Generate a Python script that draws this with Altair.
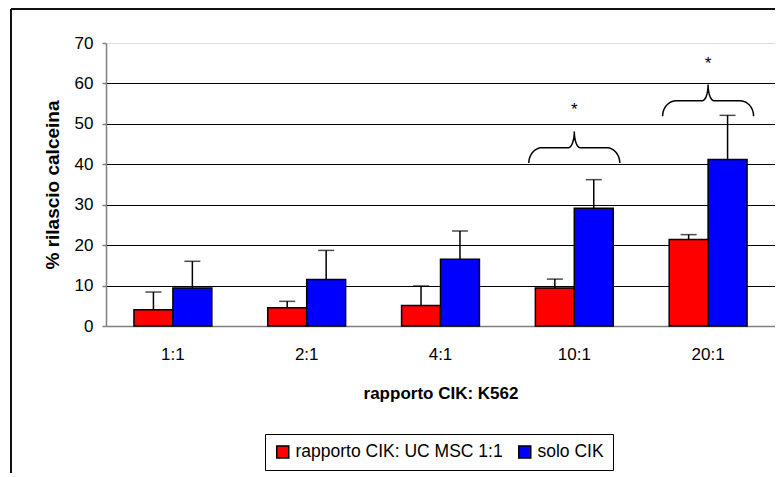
import altair as alt
import pandas as pd
import numpy as np

# ---- data ----
categories = ["1:1", "2:1", "4:1", "10:1", "20:1"]
series = ["rapporto CIK: UC MSC 1:1", "solo CIK"]
red_values = [4.0, 4.5, 5.1, 9.4, 21.4]
red_err_top = [8.4, 6.1, 9.9, 11.6, 22.6]
blue_values = [9.4, 11.5, 16.5, 29.1, 41.2]
blue_err_top = [16.0, 18.7, 23.5, 36.2, 52.1]
colors = ["#FF0000", "#0000FF"]
y_ticks = [0, 10, 20, 30, 40, 50, 60, 70]

# significance braces
brace_categories = ["10:1", "20:1"]
brace_base = [40.3, 51.9]
brace_labels = ["*", "*"]

FONT = "Liberation Sans"

rows = []
for i, c in enumerate(categories):
    rows.append({"category": c, "series": series[0], "value": red_values[i], "err_top": red_err_top[i]})
    rows.append({"category": c, "series": series[1], "value": blue_values[i], "err_top": blue_err_top[i]})
df = pd.DataFrame(rows)

# brace geometry (shape parameters, in axis units)
half_w, rx_end, rx_mid, mid_off, tip_off, star_off = 0.34, 0.10, 0.045, 3.8, 7.8, 14.0
brace_rows, star_rows = [], []
for b, (cat, base, lab) in enumerate(zip(brace_categories, brace_base, brace_labels)):
    xc = categories.index(cat) + 0.5
    y_end, y_mid, y_tip = base, base + mid_off, base + tip_off
    t = np.linspace(0, np.pi / 2, 12)
    left = []
    xl = xc - half_w
    for tt in t:
        left.append((xl + rx_end * (1 - np.cos(tt)), y_end + (y_mid - y_end) * np.sin(tt)))
    for tt in t:
        left.append((xc - rx_mid + rx_mid * np.sin(tt), y_tip - (y_tip - y_mid) * np.cos(tt)))
    right = [(2 * xc - x, y) for (x, y) in reversed(left)]
    pts = left + right
    for k, (x, y) in enumerate(pts):
        brace_rows.append({"brace": b, "order": k, "bx": x, "by": y})
    star_rows.append({"bx": xc, "by": base + star_off, "label": lab})
brace_df = pd.DataFrame(brace_rows)
star_df = pd.DataFrame(star_rows)

x_enc = alt.X(
    "category:N",
    sort=categories,
    scale=alt.Scale(paddingInner=0.418, paddingOuter=0.209),
    axis=alt.Axis(
        title="rapporto CIK: K562",
        labelAngle=0,
        ticks=False,
        tickSize=0,
        labelPadding=20,
        labelFontSize=17,
        labelFont=FONT,
        labelColor="black",
        titleFont=FONT,
        titleFontSize=17,
        titleFontWeight="bold",
        titleColor="black",
        titlePadding=23,
        domainColor="#808080",
        domainWidth=1.5,
        grid=False,
    ),
)
xoff_enc = alt.XOffset("series:N", sort=series, scale=alt.Scale(paddingInner=0, paddingOuter=0))
y_scale = alt.Scale(domain=[0, 70], nice=False)

bars = alt.Chart(df).mark_bar(stroke="black", strokeWidth=1.5).encode(
    x=x_enc,
    xOffset=xoff_enc,
    y=alt.Y(
        "value:Q",
        scale=y_scale,
        axis=alt.Axis(
            title="% rilascio calceina",
            values=y_ticks,
            tickSize=4,
            tickColor="#808080",
            tickWidth=1.5,
            labelPadding=9,
            labelFontSize=17,
            labelFont=FONT,
            labelColor="black",
            titleFont=FONT,
            titleFontSize=19,
            titleFontWeight="bold",
            titleColor="black",
            titlePadding=12,
            domainColor="#808080",
            domainWidth=1.5,
            grid=True,
            gridColor={"condition": {"test": "datum.value == 0 || datum.value == 70", "value": "transparent"}, "value": "black"},
            gridWidth=1,
        ),
    ),
    color=alt.Color(
        "series:N",
        scale=alt.Scale(domain=series, range=colors),
        legend=alt.Legend(
            title=None,
            orient="none",
            legendX=159,
            legendY=391,
            direction="horizontal",
            symbolType="square",
            symbolSize=144,
            symbolStrokeColor="black",
            symbolStrokeWidth=1.5,
            labelFont=FONT,
            labelFontSize=17.5,
            labelColor="black",
            labelLimit=0,
            labelOffset=4,
            columnPadding=12,
            padding=9,
            strokeColor="black",
        ),
    ),
)

err = alt.Chart(df).mark_rule(color="black", strokeWidth=1.5).encode(
    x=alt.X("category:N", sort=categories), xOffset=xoff_enc,
    y=alt.Y("value:Q", scale=y_scale), y2="err_top:Q",
)
caps = alt.Chart(df).mark_tick(color="black", thickness=1.5, size=16).encode(
    x=alt.X("category:N", sort=categories), xOffset=xoff_enc,
    y=alt.Y("err_top:Q", scale=y_scale),
)

bx_scale = alt.Scale(domain=[0, len(categories)], nice=False, zero=False)
braces = alt.Chart(brace_df).mark_line(color="black", strokeWidth=1.5).encode(
    x=alt.X("bx:Q", scale=bx_scale, axis=None),
    y=alt.Y("by:Q", scale=y_scale),
    detail="brace:N",
    order="order:Q",
)
stars = alt.Chart(star_df).mark_text(fontSize=17, font=FONT, color="black", baseline="alphabetic", dy=9).encode(
    x=alt.X("bx:Q", scale=bx_scale, axis=None),
    y=alt.Y("by:Q", scale=y_scale),
    text="label:N",
)
frame_top = alt.Chart(star_df).mark_rule(color="black", strokeWidth=1.5).encode(
    x=alt.value(-95), x2=alt.value(669), y=alt.value(-34)
)
frame_left = alt.Chart(star_df).mark_rule(color="black", strokeWidth=1.5).encode(
    x=alt.value(-95), y=alt.value(-34), y2=alt.value(432)
)

main = alt.layer(bars, err, caps)
annot = alt.layer(braces, stars, frame_top, frame_left)

chart = alt.layer(main, annot).resolve_scale(x="independent").properties(
    width=669,
    height=283,
    autosize=alt.AutoSizeParams(type="none"),
    padding={"left": 98, "top": 35, "right": 0, "bottom": 147},
).configure_view(stroke="#808080", strokeWidth=1.5).configure(background="white")

chart.save("out.html", embed_options={"renderer": "svg", "actions": False})
